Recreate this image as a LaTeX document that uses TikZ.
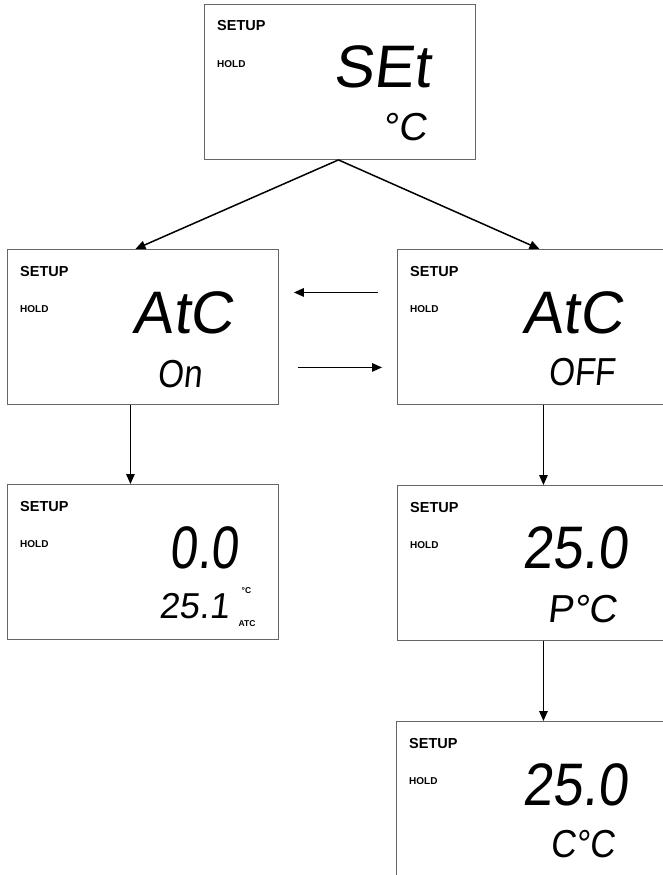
\documentclass[tikz,border=0pt]{standalone}
\usepackage{fontspec}
\usepackage{graphicx}
\setmainfont{Liberation Sans}
\newfontfamily\seg[FakeSlant=0.12]{Liberation Sans}
\usetikzlibrary{arrows.meta}
\tikzset{
  lcd/.style={draw=black!60, line width=0.9pt, minimum width=271pt, minimum height=155pt, inner sep=0pt, anchor=north west},
  setuplbl/.style={anchor=base west, inner sep=0pt, font=\bfseries\fontsize{14.5}{15}\selectfont},
  holdlbl/.style={anchor=base west, inner sep=0pt, font=\bfseries\fontsize{10}{11}\selectfont},
  bigseg/.style={anchor=base, inner sep=0pt, font=\seg\fontsize{60}{60}\selectfont},
  smallseg/.style={anchor=base, inner sep=0pt, font=\seg\fontsize{39}{39}\selectfont},
  tiny/.style={anchor=base, inner sep=0pt, font=\bfseries\fontsize{8.5}{9}\selectfont},
  arr/.style={-{Triangle[length=10pt,width=8.5pt]}, line width=1.5pt, black}
}
\begin{document}
\begin{tikzpicture}[x=1pt,y=1pt]
\useasboundingbox (0,0) rectangle (663,-875);
% boxes
\node[lcd] (T)  at (204,-4) {};
\node[lcd] (L1) at (7,-249) {};
\node[lcd] (R1) at (397,-249) {};
\node[lcd] (L2) at (7,-484) {};
\node[lcd] (R2) at (397,-485) {};
\node[lcd] (R3) at (396,-721) {};
% labels SETUP / HOLD
\foreach \b in {T,L1,R1,L2,R2,R3}{
  \node[setuplbl] (\b su) at ([shift={(13,-27)}]\b.north west) {SETUP};
  \node[holdlbl] (\b ho) at ([shift={(13,-63.5)}]\b.north west) {HOLD};
}
% displays
\node[bigseg] (Tbig) at ([shift={(178,-83)}]T.north west) {SEt};
\node[smallseg] (Tsm) at ([shift={(200.5,-136)}]T.north west) {°C};
\node[bigseg] (L1big) at ([shift={(176,-84)}]L1.north west) {AtC};
\node[smallseg] (L1sm) at ([shift={(173,-138)}]L1.north west) {\scalebox{0.85}[1]{On}};
\node[bigseg] (R1big) at ([shift={(175.5,-84)}]R1.north west) {AtC};
\node[smallseg] (R1sm) at ([shift={(184.5,-136)}]R1.north west) {\scalebox{0.85}[1]{OFF}};
\node[bigseg] (L2big) at ([shift={(197,-84)}]L2.north west) {\scalebox{0.82}[1]{0.0}};
\node[smallseg, font=\seg\fontsize{36}{36}\selectfont] (L2sm) at ([shift={(187,-134)}]L2.north west) {25.1};
\node[tiny] (L2deg) at ([shift={(239.5,-109)}]L2.north west) {°C};
\node[tiny] (L2atc) at ([shift={(240,-142)}]L2.north west) {ATC};
\node[bigseg] (R2big) at ([shift={(178,-83)}]R2.north west) {\scalebox{0.9}[1]{25.0}};
\node[smallseg] (R2sm) at ([shift={(185,-137)}]R2.north west) {P°C};
\node[bigseg] (R3big) at ([shift={(179,-84)}]R3.north west) {\scalebox{0.9}[1]{25.0}};
\node[smallseg] (R3sm) at ([shift={(186.5,-136)}]R3.north west) {\scalebox{0.9}[1]{C°C}};
% connectors
\draw[arr] ([xshift=-1.5pt]T.south) -- ([xshift=-7.5pt]L1.north);
\draw[arr] ([xshift=-1.5pt]T.south) -- ([xshift=6.5pt]R1.north);
\draw[arr] ([xshift=-12.5pt]L1.south) -- ([xshift=-12.5pt]L2.north);
\draw[arr] ([xshift=10.5pt]R1.south) -- ([xshift=10.5pt]R2.north);
\draw[arr] ([xshift=10.5pt]R2.south) -- ([xshift=11.5pt]R3.north);
\draw[arr, shorten <=19pt, shorten >=15pt] ([yshift=34.5pt]R1.west) -- ([yshift=34.5pt]L1.east);
\draw[arr, shorten <=19pt, shorten >=15pt] ([yshift=-40.5pt]L1.east) -- ([yshift=-40.5pt]R1.west);
\end{tikzpicture}
\end{document}
